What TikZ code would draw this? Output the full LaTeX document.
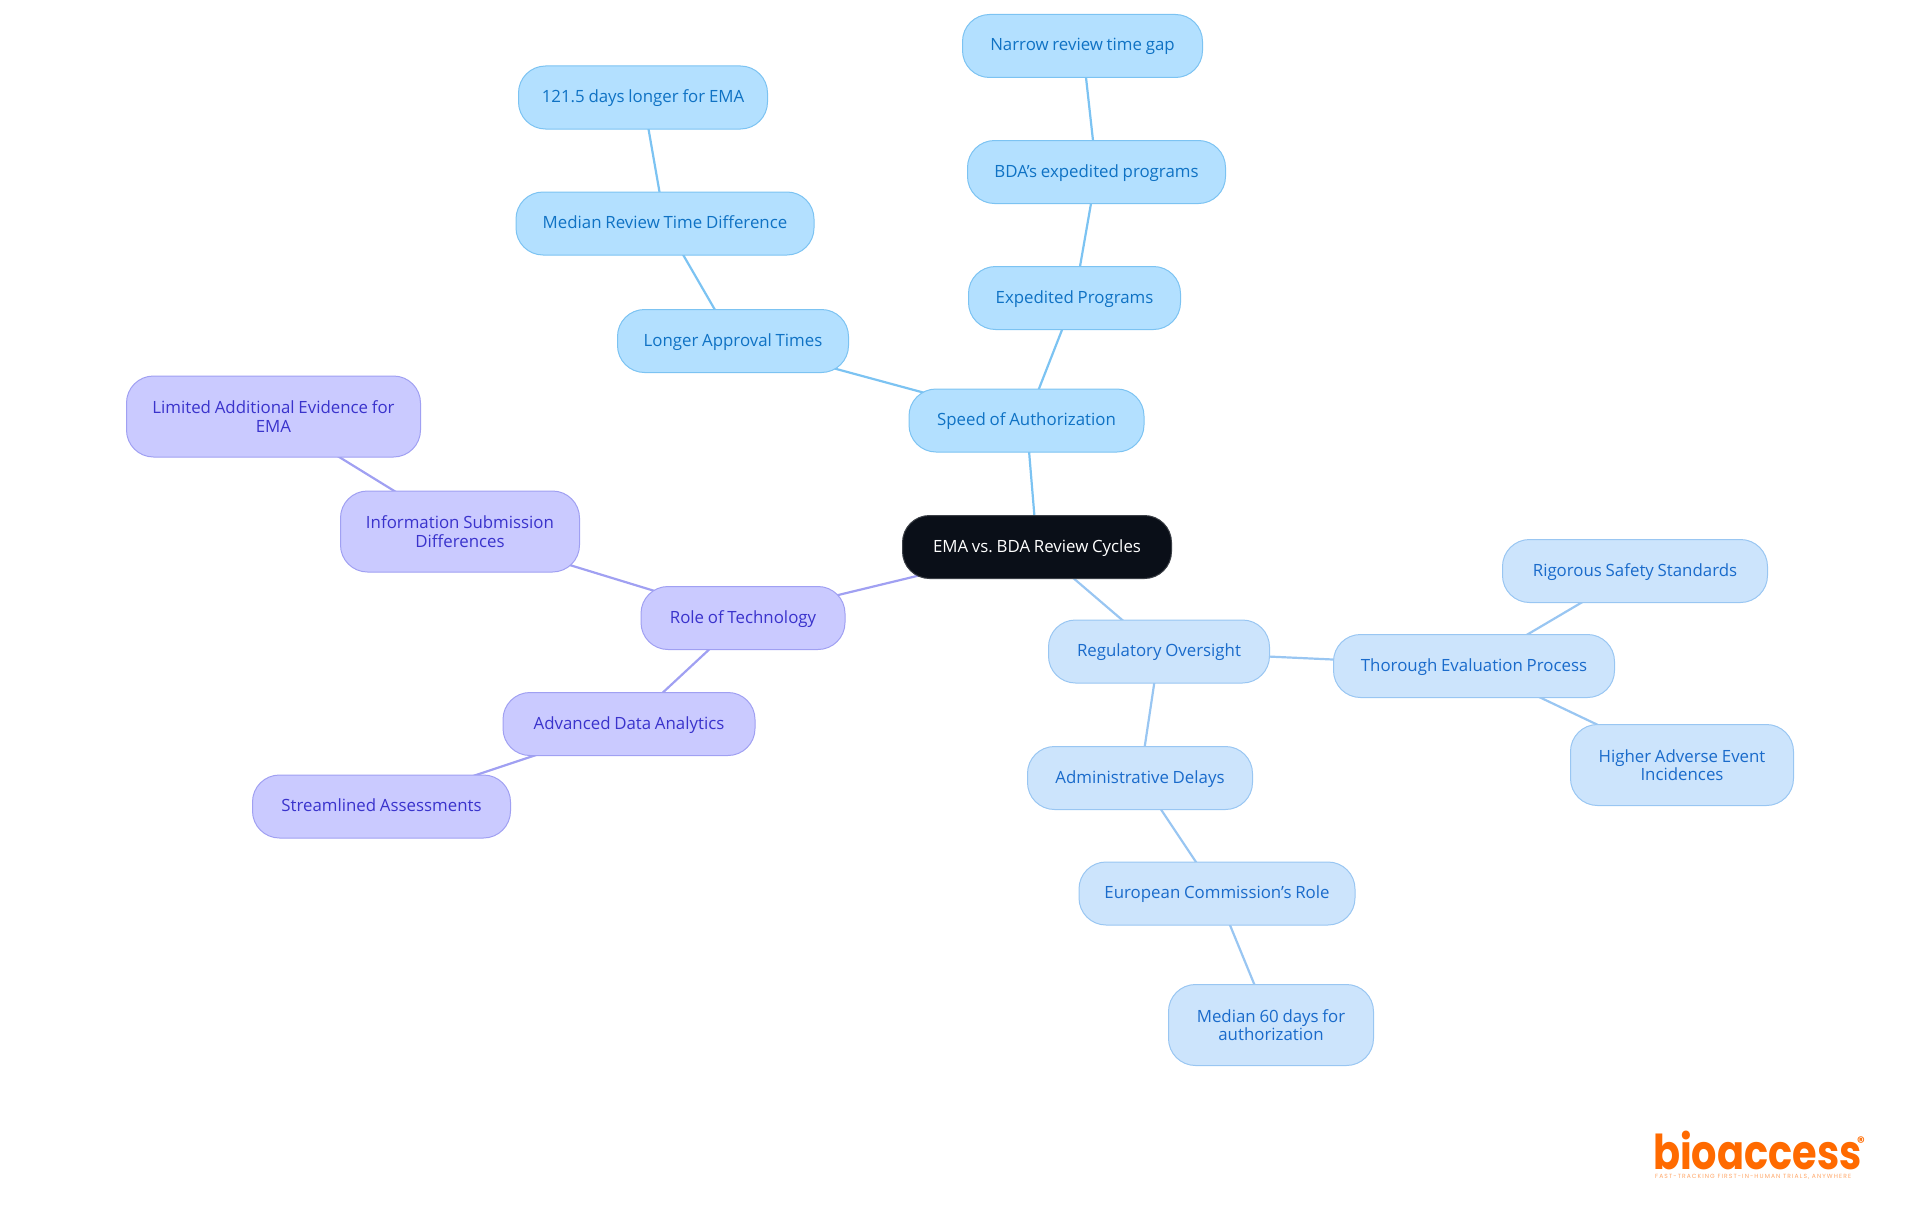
\documentclass[tikz,border=0pt]{standalone}
\usepackage{fontspec}
\setmainfont[WordSpace=0.85]{Open Sans}
\newfontfamily\logofont{Poppins}
\newfontfamily\tagfont[LetterSpace=18]{Poppins}
\usetikzlibrary{backgrounds}
\definecolor{rootfill}{HTML}{0A0F18}
\definecolor{bluefill}{HTML}{B3E0FF}
\definecolor{blueline}{HTML}{7CC3F2}
\definecolor{bluetext}{HTML}{0F72C4}
\definecolor{palefill}{HTML}{CCE4FC}
\definecolor{paleline}{HTML}{99C6F2}
\definecolor{paletext}{HTML}{1A6BCB}
\definecolor{violetfill}{HTML}{CACAFF}
\definecolor{violetline}{HTML}{A0A0F2}
\definecolor{violettext}{HTML}{3A33CC}
\definecolor{logoorange}{HTML}{FF6A00}
\tikzset{
	topic/.style={draw, line width=1pt, rounded corners=27pt, align=center, inner sep=0pt, text height=14pt, text depth=4pt, minimum height=63pt, font=\fontsize{16.85}{18.4}\selectfont},
	twolines/.style={text height=, text depth=, minimum height=81pt},
	speedtopic/.style={topic, draw=blueline, fill=bluefill, text=bluetext},
	oversight/.style={topic, draw=paleline, fill=palefill, text=paletext},
	techtopic/.style={topic, draw=violetline, fill=violetfill, text=violettext}
}
\begin{document}
\frenchspacing
\begin{tikzpicture}[x=1pt, y=-1pt]
	\useasboundingbox (0,0) rectangle (1920,1215);
	\node[topic, fill=rootfill, draw=rootfill!80!white, text=white, minimum width=269pt] (root) at (1037,547) {EMA vs. BDA Review Cycles};
	\node[speedtopic, minimum width=235pt] (speed) at (1026.5,420.5) {Speed of Authorization};
	\node[speedtopic, minimum width=212pt] (expedited) at (1074.5,298) {Expedited Programs};
	\node[speedtopic, minimum width=258pt] (bdaprog) at (1096.5,172) {BDA's expedited programs};
	\node[speedtopic, minimum width=240pt] (narrow) at (1082.5,46) {Narrow review time gap};
	\node[speedtopic, minimum width=231pt] (longer) at (733,341) {Longer Approval Times};
	\node[speedtopic, minimum width=298pt] (mediandiff) at (665,223.5) {Median Review Time Difference};
	\node[speedtopic, minimum width=249pt] (emadays) at (643,97.5) {121.5 days longer for EMA};
	\node[techtopic, minimum width=204pt] (role) at (743,618) {Role of Technology};
	\node[techtopic, twolines, minimum width=239pt] (info) at (460,531.5) {Information Submission\\Differences};
	\node[techtopic, twolines, minimum width=294pt] (limited) at (273.5,416.5) {Limited Additional Evidence for\\EMA};
	\node[techtopic, minimum width=252pt] (analytics) at (629,724) {Advanced Data Analytics};
	\node[techtopic, minimum width=258pt] (streamlined) at (381.5,806.5) {Streamlined Assessments};
	\node[oversight, minimum width=221pt] (oversight) at (1159,651.5) {Regulatory Oversight};
	\node[oversight, minimum width=281pt] (thorough) at (1474,666) {Thorough Evaluation Process};
	\node[oversight, minimum width=265pt] (rigorous) at (1635,571) {Rigorous Safety Standards};
	\node[oversight, twolines, minimum width=223pt] (higher) at (1682,765) {Higher Adverse Event\\Incidences};
	\node[oversight, minimum width=225pt] (admin) at (1140,778) {Administrative Delays};
	\node[oversight, minimum width=276pt] (commission) at (1217,893.5) {European Commission's Role};
	\node[oversight, twolines, minimum width=205pt] (sixty) at (1271,1025) {Median 60 days for\\authorization};
	\begin{scope}[on background layer]
		\foreach \a/\b in {root/speed, speed/expedited, expedited/bdaprog, bdaprog/narrow, speed/longer, longer/mediandiff, mediandiff/emadays} {
			\draw[blueline, line width=2.2pt] (\a.center) -- (\b.center);
		}
		\foreach \a/\b in {root/oversight, oversight/thorough, thorough/rigorous, thorough/higher, oversight/admin, admin/commission, commission/sixty} {
			\draw[paleline, line width=2.2pt] (\a.center) -- (\b.center);
		}
		\foreach \a/\b in {root/role, role/info, info/limited, role/analytics, analytics/streamlined} {
			\draw[violetline, line width=2.2pt] (\a.center) -- (\b.center);
		}
	\end{scope}
	\node[text=logoorange, font=\logofont\bfseries\fontsize{48}{48}\selectfont, inner sep=0pt, anchor=base west, xscale=.83, transform shape] (logo) at (1653,1169) {bioaccess};
	\node[text=logoorange, font=\logofont\bfseries\fontsize{15}{15}\selectfont, inner sep=0pt] (regmark) at (1861,1142) {®};
	\node[text=logoorange!60!white, font=\tagfont\fontsize{6}{6}\selectfont, inner sep=0pt, anchor=base west] (tagline) at (1655,1178) {FAST-TRACKING FIRST-IN-HUMAN TRIALS, ANYWHERE};
\end{tikzpicture}
\end{document}
